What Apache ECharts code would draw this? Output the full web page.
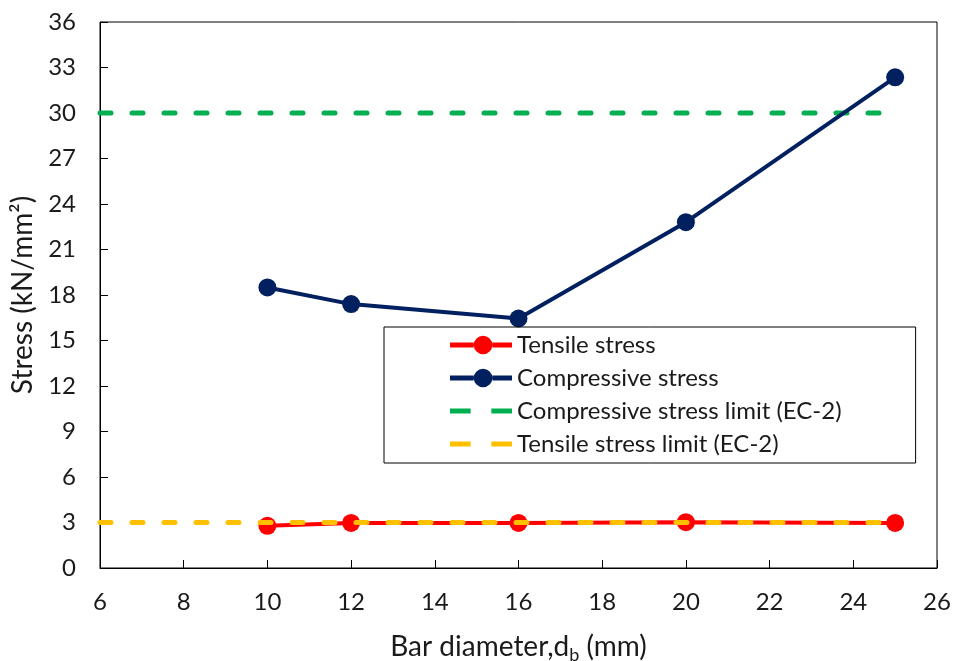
<!DOCTYPE html>
<html lang="en">
  <head>
    <meta charset="UTF-8" />
    <title>Stress vs bar diameter</title>
    <script src="https://cdn.jsdelivr.net/npm/echarts@6/dist/echarts.min.js"></script>
    <style>
      html, body { margin: 0; padding: 0; background: #fff; }
      #main { width: 954px; height: 661px; }
    </style>
  </head>
  <body>
    <div id="main"></div>
  </body>
  <script>
    // 数据
    const diameters = [10, 12, 16, 20, 25];
    const tensile = [2.78, 2.97, 2.97, 3.02, 2.97];
    const compressive = [18.5, 17.4, 16.45, 22.8, 32.35];
    const limitX = [6, 25];
    const compLimit = [30, 30];
    const tensLimit = [3, 3];

    const font = "Lato, 'Open Sans', sans-serif";
    const textColor = "#1a1a1a";
    // 图例图标: 虚线 / 线+圆点
    const dashIcon = "path://M0,0h20v5h-20z M40,0h20v5h-20z";
    const dotIcon = "path://M0,7.5h23v5h-23z M41,7.5h19v5h-19z M23,10a9,9 0 1,0 18,0a9,9 0 1,0 -18,0z";

    function pairs(xs, ys) {
      return xs.map(function (x, i) {
        return [x, ys[i]];
      });
    }

    var myChart = echarts.init(document.getElementById("main"));
    var option = {
      animation: false,
      grid: {
        left: 100,
        right: 17,
        top: 22,
        bottom: 93,
        outerBoundsMode: "none",
        show: true,
        borderColor: "#000",
        borderWidth: 1,
      },
      legend: {
        orient: "vertical",
        left: 384,
        top: 327,
        itemWidth: 62,
        itemHeight: 19,
        itemGap: 9,
        padding: [6, 74, 7, 66],
        borderColor: "#000",
        borderWidth: 1,
        textStyle: { fontFamily: font, fontSize: 24, lineHeight: 22, color: textColor },
        data: [
          { name: "Tensile stress", icon: dotIcon, itemStyle: { color: "#ff0000" } },
          { name: "Compressive stress", icon: dotIcon, itemStyle: { color: "#002060" } },
          { name: "Compressive stress limit (EC-2)", icon: dashIcon, itemStyle: { color: "#00b050" } },
          { name: "Tensile stress limit (EC-2)", icon: dashIcon, itemStyle: { color: "#ffc000" } },
        ],
      },
      xAxis: {
        type: "value",
        min: 6,
        max: 26,
        interval: 2,
        name: "Bar diameter,d{sub|b} (mm)",
        nameLocation: "middle",
        nameGap: 62,
        nameTextStyle: {
          fontFamily: font,
          fontSize: 28,
          color: textColor,
          rich: { sub: { fontFamily: font, fontSize: 18, color: textColor, padding: [16, 0, 0, 0] } },
        },
        axisLine: { lineStyle: { color: "#000", width: 1 } },
        axisTick: { inside: true, length: 8, lineStyle: { color: "#000" } },
        axisLabel: { fontFamily: font, fontSize: 24, color: textColor, margin: 22 },
        splitLine: { show: false },
      },
      yAxis: {
        type: "value",
        min: 0,
        max: 36,
        interval: 3,
        name: "Stress (kN/mm²)",
        nameLocation: "middle",
        nameGap: 61,
        nameTextStyle: { fontFamily: font, fontSize: 28, color: textColor },
        axisLine: { show: true, lineStyle: { color: "#000", width: 1 } },
        axisTick: { show: true, inside: true, length: 8, lineStyle: { color: "#000" } },
        axisLabel: { fontFamily: font, fontSize: 24, color: textColor, margin: 24 },
        splitLine: { show: false },
      },
      series: [
        {
          name: "Compressive stress limit (EC-2)",
          type: "line",
          data: pairs(limitX, compLimit),
          symbol: "none",
          lineStyle: { color: "#00b050", width: 5, type: [11, 21], cap: "round" },
          itemStyle: { color: "#00b050" },
        },
        {
          name: "Tensile stress",
          type: "line",
          data: pairs(diameters, tensile),
          symbol: "circle",
          symbolSize: 18,
          lineStyle: { color: "#ff0000", width: 4 },
          itemStyle: { color: "#ff0000" },
          z: 3,
        },
        {
          name: "Compressive stress",
          type: "line",
          data: pairs(diameters, compressive),
          symbol: "circle",
          symbolSize: 18,
          lineStyle: { color: "#002060", width: 4 },
          itemStyle: { color: "#002060" },
          z: 3,
        },
        {
          name: "Tensile stress limit (EC-2)",
          type: "line",
          data: pairs(limitX, tensLimit),
          symbol: "none",
          lineStyle: { color: "#ffc000", width: 5, type: [11, 21], cap: "round" },
          itemStyle: { color: "#ffc000" },
          z: 4,
        },
      ],
    };
    myChart.setOption(option);
  </script>
</html>
